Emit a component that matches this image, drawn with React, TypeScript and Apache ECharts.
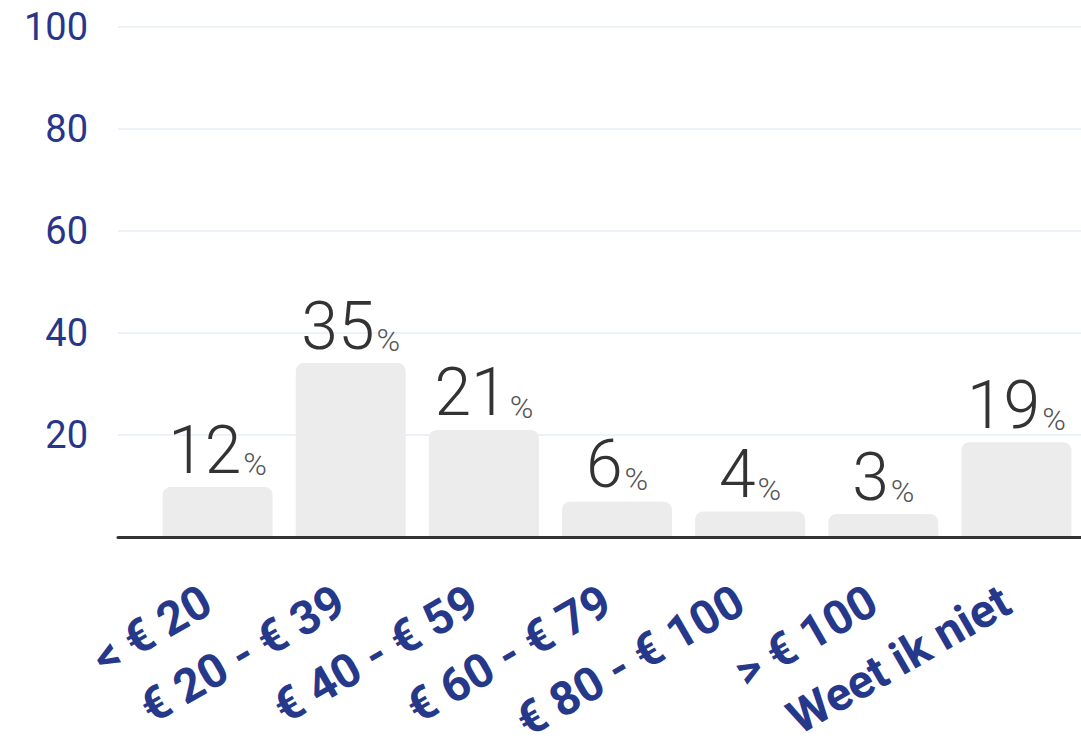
import React, { useEffect, useRef } from "react";
import * as echarts from "echarts";

const categories = ["< € 20", "€ 20 - € 39", "€ 40 - € 59", "€ 60 - € 79", "€ 80 - € 100", "> € 100", "Weet ik niet"];
const labelValues = [12, 35, 21, 6, 4, 3, 19];
const barHeights = [9.8, 34.1, 21, 6.9, 5, 4.5, 18.6];
const yTicks = [0, 20, 40, 60, 80, 100];

export default function App() {
  const ref = useRef<HTMLDivElement>(null);
  useEffect(() => {
    document.body.style.margin = "0";
    const chart = echarts.init(ref.current!, undefined, { renderer: "svg" });
    chart.setOption({
      animation: false,
      backgroundColor: "#ffffff",
      grid: [
        { left: 118, right: 0, top: 27, bottom: 212, outerBoundsMode: "none", containLabel: false },
        { left: 151, width: 932, top: 27, bottom: 212, outerBoundsMode: "none", containLabel: false },
      ],
      xAxis: [
        {
          gridIndex: 0,
          type: "category",
          data: [""],
          axisLine: { show: true, lineStyle: { color: "#333333", width: 3 } },
          axisTick: { show: false },
          axisLabel: { show: false },
          z: 5,
        },
        {
          gridIndex: 1,
          type: "category",
          data: categories,
          axisLine: { show: false },
          axisTick: { show: false },
          axisLabel: {
            rotate: 30,
            margin: 54,
            padding: [0, 12, 0, 0],
            color: "#26388a",
            fontFamily: "Roboto",
            fontWeight: "bold",
            fontSize: 47,
            interval: 0,
          },
        },
      ],
      yAxis: [
        {
          gridIndex: 0,
          type: "value",
          min: yTicks[0],
          max: yTicks[yTicks.length - 1],
          interval: 20,
          axisLine: { show: false },
          axisTick: { show: false },
          axisLabel: {
            margin: 30,
            color: "#27368a",
            fontFamily: "Roboto",
            fontSize: 38,
            formatter: (v: number) => (v === 0 ? "" : String(v)),
          },
          splitLine: { lineStyle: { color: "#edf2fa", width: 2 } },
        },
        {
          gridIndex: 1,
          type: "value",
          min: yTicks[0],
          max: yTicks[yTicks.length - 1],
          show: false,
          splitLine: { show: false },
        },
      ],
      series: [
        {
          type: "bar",
          xAxisIndex: 1,
          yAxisIndex: 1,
          data: barHeights,
          barWidth: 110,
          itemStyle: { color: "#ececec", borderRadius: [8, 8, 0, 0] },
          label: {
            show: true,
            position: "top",
            distance: 4,
            formatter: (p: any) => `{a|${labelValues[p.dataIndex]}}{b|%}`,
            rich: {
              a: { fontFamily: "Roboto", fontWeight: 300, fontSize: 66, color: "#333333", verticalAlign: "bottom", lineHeight: 60 },
              b: { fontFamily: "Roboto", fontWeight: 300, fontSize: 32, color: "#555555", verticalAlign: "bottom", lineHeight: 36, padding: [0, 0, 3, 2] },
            },
          },
        },
      ],
    });
    return () => chart.dispose();
  }, []);
  return <div ref={ref} style={{ width: 1081, height: 749 }} />;
}
